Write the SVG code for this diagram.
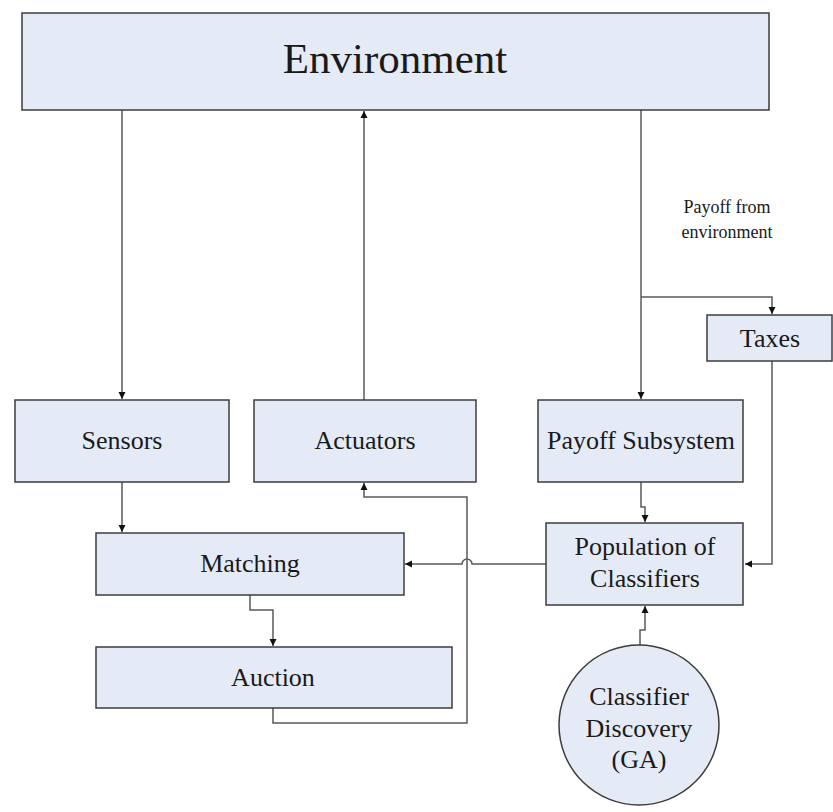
<svg xmlns="http://www.w3.org/2000/svg" width="833" height="812" viewBox="0 0 833 812">
  <style>
    .box { fill: #e4ebf6; stroke: #3c3c3c; stroke-width: 1.5; }
    .wire { fill: none; stroke: #5a5a5a; stroke-width: 1.5; }
    .lbl { font-family: "Liberation Serif", "Times New Roman", serif; font-size: 26px; fill: #1a1a1a; text-anchor: middle; }
    .title { font-size: 43px; }
    .note { font-size: 18px; }
  </style>
  <defs>
    <marker id="arrow" viewBox="0 0 10 10" refX="10" refY="5" markerWidth="7" markerHeight="8" markerUnits="userSpaceOnUse" orient="auto">
      <path d="M0,0 L10,5 L0,10 Z" fill="#111"/>
    </marker>
  </defs>
  <rect width="833" height="812" fill="#ffffff"/>

  <g id="connectors">
    <!-- Environment to Sensors -->
    <path class="wire" d="M122,110 V399" marker-end="url(#arrow)"/>
    <!-- Actuators to Environment -->
    <path class="wire" d="M364,400 V111" marker-end="url(#arrow)"/>
    <!-- Environment to Payoff Subsystem -->
    <path class="wire" d="M641,110 V399" marker-end="url(#arrow)"/>
    <!-- Branch to Taxes -->
    <path class="wire" d="M641,297 H772 V314" marker-end="url(#arrow)"/>
    <!-- Taxes to Population -->
    <path class="wire" d="M772,361 V564 H745" marker-end="url(#arrow)"/>
    <!-- Payoff Subsystem to Population -->
    <path class="wire" d="M641,482 V507 H645 V522" marker-end="url(#arrow)"/>
    <!-- Discovery to Population -->
    <path class="wire" d="M640,646 V630 H645 V606" marker-end="url(#arrow)"/>
    <!-- Population to Matching, hopping the Auction feedback line -->
    <path class="wire" d="M546,564 H472 A5,5 0 0 0 462,564 H405" marker-end="url(#arrow)"/>
    <!-- Sensors to Matching -->
    <path class="wire" d="M122,482 V532" marker-end="url(#arrow)"/>
    <!-- Matching to Auction -->
    <path class="wire" d="M250,595 V610 H273 V646" marker-end="url(#arrow)"/>
    <!-- Auction back to Actuators -->
    <path class="wire" d="M273,708 V723 H467 V497 H364 V483" marker-end="url(#arrow)"/>
  </g>

  <g id="environment">
    <rect class="box" x="22" y="13" width="747" height="97"/>
    <text class="lbl title" x="395" y="73">Environment</text>
  </g>

  <g id="sensors">
    <rect class="box" x="15" y="400" width="214" height="82"/>
    <text class="lbl" x="122" y="449">Sensors</text>
  </g>

  <g id="actuators">
    <rect class="box" x="254" y="400" width="222" height="82"/>
    <text class="lbl" x="365" y="449">Actuators</text>
  </g>

  <g id="payoff-subsystem">
    <rect class="box" x="538" y="400" width="205" height="82"/>
    <text class="lbl" x="641" y="449">Payoff Subsystem</text>
  </g>

  <g id="taxes">
    <rect class="box" x="707" y="315" width="125" height="46"/>
    <text class="lbl" x="770" y="347">Taxes</text>
  </g>

  <g id="payoff-label">
    <text class="lbl note" x="727" y="213">Payoff from</text>
    <text class="lbl note" x="727" y="238">environment</text>
  </g>

  <g id="population">
    <rect class="box" x="546" y="523" width="197" height="82"/>
    <text class="lbl" x="645" y="555">Population of</text>
    <text class="lbl" x="645" y="587">Classifiers</text>
  </g>

  <g id="matching">
    <rect class="box" x="96" y="533" width="308" height="62"/>
    <text class="lbl" x="250" y="572">Matching</text>
  </g>

  <g id="auction">
    <rect class="box" x="96" y="647" width="356" height="61"/>
    <text class="lbl" x="273" y="686">Auction</text>
  </g>

  <g id="classifier-discovery">
    <circle class="box" cx="639" cy="725" r="80"/>
    <text class="lbl" x="639" y="705">Classifier</text>
    <text class="lbl" x="639" y="737">Discovery</text>
    <text class="lbl" x="639" y="768">(GA)</text>
  </g>
</svg>
